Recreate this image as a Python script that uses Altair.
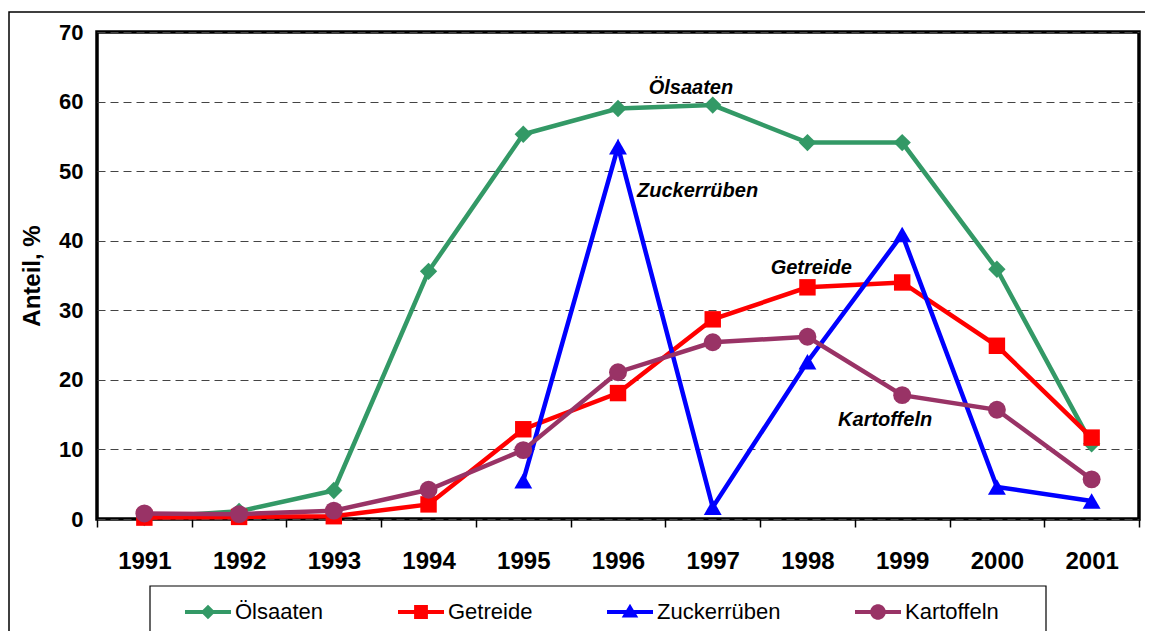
import altair as alt
import pandas as pd

# ---------------- data ----------------
years = list(range(1991, 2002))
series_names = ["Ölsaaten", "Getreide", "Zuckerrüben", "Kartoffeln"]
oelsaaten = [0.2, 1.1, 4.1, 35.6, 55.3, 59.0, 59.5, 54.1, 54.1, 35.9, 10.8]
getreide = [0.2, 0.3, 0.4, 2.1, 12.9, 18.1, 28.7, 33.3, 34.0, 24.9, 11.7]
zuckerrueben = [None, None, None, None, 5.5, 53.5, 1.7, 22.6, 40.9, 4.6, 2.6]
kartoffeln = [0.8, 0.7, 1.2, 4.2, 9.9, 21.1, 25.4, 26.2, 17.8, 15.7, 5.7]
series_values = [oelsaaten, getreide, zuckerrueben, kartoffeln]

series_colors = ["#339966", "#FF0000", "#0000FF", "#993366"]
marker_shapes = ["diamond", "square", "triangle-up", "circle"]
marker_sizes = [300, 270, 320, 320]

# legend symbols: line segment with marker
legend_paths = [
    "M-1,-0.09H-0.23L0,-0.32L0.23,-0.09H1V0.09H0.23L0,0.32L-0.23,0.09H-1Z",
    "M-1,-0.09H-0.3V-0.3H0.3V-0.09H1V0.09H0.3V0.3H-0.3V0.09H-1Z",
    "M-1,-0.09H-0.162L0,-0.36L0.162,-0.09H1V0.09H0.27L0.36,0.24H-0.36L-0.27,0.09H-1Z",
    "M-1,-0.09H-0.328A0.34,0.34 0 0 1 0.328,-0.09H1V0.09H0.328A0.34,0.34 0 0 1 -0.328,0.09H-1Z",
]

annot_text = ["Ölsaaten", "Zuckerrüben", "Getreide", "Kartoffeln"]
annot_x = [1996.77, 1996.84, 1998.04, 1998.82]
annot_y = [62.0, 47.1, 36.1, 14.3]

y_ticks = [0, 10, 20, 30, 40, 50, 60, 70]
x_boundaries = [y - 0.5 for y in years] + [years[-1] + 0.5]

FONT = "Liberation Sans"

# ---------------- tables ----------------
rows = []
for name, vals in zip(series_names, series_values):
    for yr, v in zip(years, vals):
        if v is not None:
            rows.append({"Jahr": yr, "Anteil": v, "Serie": name})
df = pd.DataFrame(rows)
annot_df = pd.DataFrame({"text": annot_text, "x": annot_x, "y": annot_y})

x_scale = alt.Scale(domain=[years[0] - 0.5, years[-1] + 0.5], nice=False, zero=False)
y_scale = alt.Scale(domain=[y_ticks[0], y_ticks[-1]], nice=False)

x_axis = alt.Axis(
    values=sorted(x_boundaries + years),
    labelExpr="datum.value % 1 === 0 ? format(datum.value, 'd') : ''",
    tickOpacity={"condition": {"test": "datum.value % 1 === 0", "value": 0}, "value": 1},
    tickSize=8, tickWidth=1.5, tickColor="black",
    domain=False, grid=False,
    labelFont=FONT, labelFontSize=24, labelFontWeight="bold", labelColor="black",
    labelPadding=22, labelOverlap=False, labelFlush=False,
    title=None,
)
y_axis = alt.Axis(
    values=y_ticks, ticks=False, domain=False,
    grid=True, gridDash=[8, 5], gridColor="#444444", gridWidth=1,
    labelFont=FONT, labelFontSize=22, labelFontWeight="bold", labelColor="black",
    labelPadding=14,
    title="Anteil, %", titleFont=FONT, titleFontSize=24, titleFontWeight="bold",
    titleColor="black", titlePadding=14,
)

base = alt.Chart(df)
X = alt.X("Jahr:Q", scale=x_scale, axis=x_axis)
Y = alt.Y("Anteil:Q", scale=y_scale, axis=y_axis)

# decorative outer frame and legend box
frame = alt.Chart(df).mark_rect(fillOpacity=0, stroke="black", strokeWidth=1.5).encode(
    x=alt.value(-88), x2=alt.value(1062), y=alt.value(-20), y2=alt.value(640)
).transform_filter("datum.Jahr == 1991 && datum.Serie == 'Getreide'")
legend_box = alt.Chart(df).mark_rect(fill="white", stroke="black", strokeWidth=1.2).encode(
    x=alt.value(53), x2=alt.value(949), y=alt.value(554), y2=alt.value(640)
).transform_filter("datum.Jahr == 1991 && datum.Serie == 'Getreide'")

layers = [frame, legend_box]
for name, col, shp, sz in zip(series_names, series_colors, marker_shapes, marker_sizes):
    sub = base.transform_filter(alt.datum.Serie == name)
    layers.append(sub.mark_line(color=col, strokeWidth=4.5).encode(x=X, y=Y))
    layers.append(
        sub.mark_point(color=col, shape=shp, size=sz, filled=True, opacity=1).encode(x=X, y=Y)
    )

annot = alt.Chart(annot_df).mark_text(
    font=FONT, fontSize=20, fontWeight="bold", fontStyle="italic", color="black",
    align="center", baseline="middle",
).encode(x=alt.X("x:Q", scale=x_scale, axis=x_axis), y=alt.Y("y:Q", scale=y_scale, axis=y_axis), text="text:N")
layers.append(annot)

leg = alt.Legend(
    title=None, orient="none", legendX=88, legendY=557, direction="horizontal", columns=4,
    labelFont=FONT, labelFontSize=22, labelColor="black", labelOffset=4,
    symbolSize=2116, symbolStrokeWidth=0, symbolOpacity=1, columnPadding=74,
)
legend_layer = base.transform_filter("false").mark_point(filled=True, opacity=1).encode(
    x=X, y=Y,
    color=alt.Color("Serie:N", scale=alt.Scale(domain=series_names, range=series_colors), legend=leg),
    shape=alt.Shape("Serie:N", scale=alt.Scale(domain=series_names, range=legend_paths), legend=leg),
)
layers.append(legend_layer)

chart = alt.layer(*layers).properties(
    width=1042, height=487,
    padding={"left": 89, "top": 24, "right": 6, "bottom": 112},
    autosize=alt.AutoSizeParams(type="none"),
    background="white",
).configure_view(stroke="black", strokeWidth=3.5)

chart.save("out.html", embed_options={"renderer": "svg", "actions": False})
